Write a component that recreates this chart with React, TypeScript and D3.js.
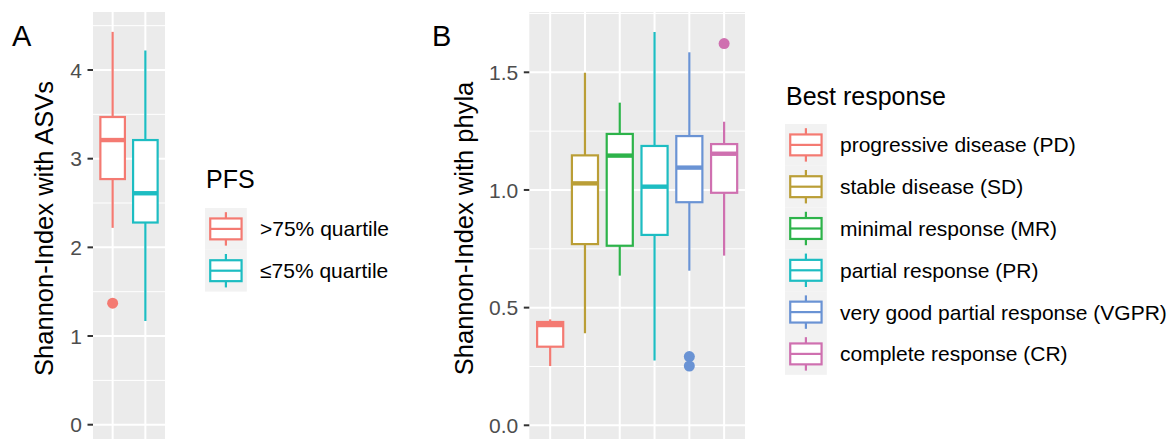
import React from "react";
import * as d3 from "d3";

// ---------- Data ----------
const pfsGroups = [">75% quartile", "≤75% quartile"];
const pfsColors = ["#F47A72", "#1DBDC2"];
// [lower whisker, Q1, median, Q3, upper whisker]
const pfsStats = [
  [2.22, 2.77, 3.21, 3.47, 4.43],
  [1.17, 2.28, 2.61, 3.21, 4.22],
];
const pfsOutliers = [[1.37], []];
const pfsTicks = [0, 1, 2, 3, 4];

const respGroups = [
  "progressive disease (PD)",
  "stable disease (SD)",
  "minimal response (MR)",
  "partial response (PR)",
  "very good partial response (VGPR)",
  "complete response (CR)",
];
const respColors = ["#F47A72", "#BA9E36", "#2DB34A", "#1DBDC2", "#6A93D4", "#CF70B0"];
const respStats = [
  [0.252, 0.334, 0.426, 0.439, 0.45],
  [0.391, 0.77, 1.028, 1.147, 1.498],
  [0.636, 0.763, 1.146, 1.238, 1.371],
  [0.275, 0.809, 1.014, 1.187, 1.671],
  [0.657, 0.948, 1.095, 1.229, 1.585],
  [0.721, 0.988, 1.154, 1.195, 1.29],
];
const respOutliers = [[], [], [], [], [0.292, 0.252], [1.622]];
const respTicks = [0, 0.5, 1.0, 1.5];
const respTickLabels = ["0.0", "0.5", "1.0", "1.5"];

const FONT = "'Liberation Sans', Arial, Helvetica, sans-serif";

type PanelProps = {
  left: number;
  right: number;
  top: number;
  bottom: number;
  groups: string[];
  colors: string[];
  stats: number[][];
  outliers: number[][];
  yDomain: [number, number];
  yRange: [number, number];
  ticks: number[];
  tickLabels: string[];
  minor: number[];
  title: string;
  titleX: number;
  letter: string;
  letterX: number;
};

function Panel(p: PanelProps) {
  const x = d3.scalePoint<string>().domain(p.groups).range([p.left, p.right]).padding(0.6);
  const y = d3.scaleLinear().domain(p.yDomain).range(p.yRange);
  const bw = x.step() * 0.75;
  const cy = (p.top + p.bottom) / 2;
  return (
    <g>
      <text x={p.letterX} y={45.5} fontSize={29} fontFamily={FONT} fill="#000">
        {p.letter}
      </text>
      <rect x={p.left} y={p.top} width={p.right - p.left} height={p.bottom - p.top} fill="#EBEBEB" />
      {p.minor.map((v) => (
        <line key={"mi" + v} x1={p.left} x2={p.right} y1={y(v)} y2={y(v)} stroke="#fff" strokeWidth={1} />
      ))}
      {p.ticks.map((v) => (
        <line key={"ma" + v} x1={p.left} x2={p.right} y1={y(v)} y2={y(v)} stroke="#fff" strokeWidth={2} />
      ))}
      {p.groups.map((g) => (
        <line key={"vx" + g} x1={x(g)} x2={x(g)} y1={p.top} y2={p.bottom} stroke="#fff" strokeWidth={2} />
      ))}
      {p.groups.map((g, i) => {
        const s = p.stats[i];
        const cx = x(g) as number;
        const c = p.colors[i];
        return (
          <g key={"b" + g}>
            <line x1={cx} x2={cx} y1={y(s[4])} y2={y(s[0])} stroke={c} strokeWidth={2.2} />
            <rect
              x={cx - bw / 2}
              y={y(s[3])}
              width={bw}
              height={y(s[1]) - y(s[3])}
              fill="#fff"
              stroke={c}
              strokeWidth={2.2}
            />
            <line x1={cx - bw / 2} x2={cx + bw / 2} y1={y(s[2])} y2={y(s[2])} stroke={c} strokeWidth={4.4} />
            {p.outliers[i].map((o, j) => (
              <circle key={j} cx={cx} cy={y(o)} r={5.5} fill={c} />
            ))}
          </g>
        );
      })}
      {p.ticks.map((v, i) => (
        <g key={"t" + v}>
          <line x1={p.left - 5.5} x2={p.left} y1={y(v)} y2={y(v)} stroke="#333" strokeWidth={2} />
          <text
            x={p.left - 11}
            y={y(v)}
            dy="0.36em"
            textAnchor="end"
            fontSize={21}
            fontFamily={FONT}
            fill="#4D4D4D"
          >
            {p.tickLabels[i]}
          </text>
        </g>
      ))}
      <text
        transform={`translate(${p.titleX},${cy}) rotate(-90)`}
        textAnchor="middle"
        fontSize={25.5}
        fontFamily={FONT}
        fill="#000"
      >
        {p.title}
      </text>
    </g>
  );
}

type LegendProps = {
  left: number;
  titleY: number;
  keyTop: number;
  title: string;
  labels: string[];
  colors: string[];
};

function Legend(p: LegendProps) {
  const k = 41.8;
  return (
    <g>
      <text x={p.left + 1} y={p.titleY} fontSize={25} fontFamily={FONT} fill="#000">
        {p.title}
      </text>
      {p.labels.map((l, i) => {
        const top = p.keyTop + i * k;
        const cx = p.left + k / 2;
        const c = p.colors[i];
        return (
          <g key={l}>
            <rect x={p.left} y={top} width={k} height={k} fill="#F2F2F2" />
            <line x1={cx} x2={cx} y1={top + k * 0.1} y2={top + k * 0.9} stroke={c} strokeWidth={2.2} />
            <rect
              x={p.left + k * 0.125}
              y={top + k * 0.25}
              width={k * 0.75}
              height={k * 0.5}
              fill="#fff"
              stroke={c}
              strokeWidth={2.2}
            />
            <line
              x1={p.left + k * 0.125}
              x2={p.left + k * 0.875}
              y1={top + k / 2}
              y2={top + k / 2}
              stroke={c}
              strokeWidth={2.2}
            />
            <text x={p.left + 55} y={top + k / 2} dy="0.36em" fontSize={21} fontFamily={FONT} fill="#000">
              {l}
            </text>
          </g>
        );
      })}
    </g>
  );
}

export default function App() {
  return (
    <svg
      width={1173}
      height={439}
      style={{ position: "absolute", left: 0, top: 0, background: "#fff" }}
    >
      <rect width={1173} height={439} fill="#fff" />
      <Panel
        left={93}
        right={165}
        top={12}
        bottom={445}
        groups={pfsGroups}
        colors={pfsColors}
        stats={pfsStats}
        outliers={pfsOutliers}
        yDomain={[0, 4]}
        yRange={[424.7, 70]}
        ticks={pfsTicks}
        tickLabels={pfsTicks.map((t) => String(t))}
        minor={[0.5, 1.5, 2.5, 3.5, 4.5]}
        title="Shannon-Index with ASVs"
        titleX={53}
        letter="A"
        letterX={12}
      />
      <Legend
        left={205}
        titleY={188}
        keyTop={208}
        title="PFS"
        labels={pfsGroups}
        colors={pfsColors}
      />
      <Panel
        left={529.3}
        right={745}
        top={12}
        bottom={445}
        groups={respGroups}
        colors={respColors}
        stats={respStats}
        outliers={respOutliers}
        yDomain={[0, 1.5]}
        yRange={[425.3, 72.3]}
        ticks={respTicks}
        tickLabels={respTickLabels}
        minor={[0.25, 0.75, 1.25, 1.75]}
        title="Shannon-Index with phyla"
        titleX={473}
        letter="B"
        letterX={432}
      />
      <Legend
        left={785}
        titleY={105}
        keyTop={124}
        title="Best response"
        labels={respGroups}
        colors={respColors}
      />
    </svg>
  );
}
